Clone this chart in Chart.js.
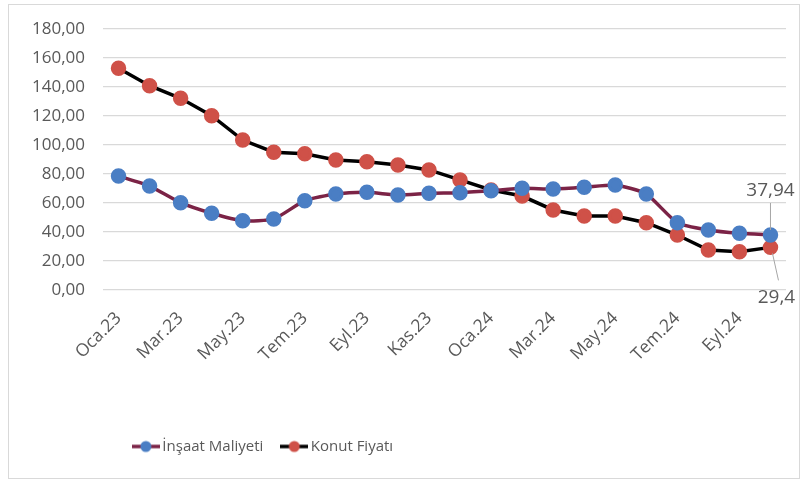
<!DOCTYPE html>
<html>
<head>
<meta charset="utf-8">
<script src="https://cdn.jsdelivr.net/npm/chart.js@4/dist/chart.umd.min.js"></script>
<style>
  html, body { margin: 0; padding: 0; background: #fff; }
  #wrap { width: 803px; height: 482px; position: relative; }
</style>
</head>
<body>
<div id="wrap"><canvas id="chart" width="803" height="482"></canvas></div>
<script>
// Months, Oca.23 .. Eki.24
const months = ['Oca', 'Şub', 'Mar', 'Nis', 'May', 'Haz', 'Tem', 'Ağu', 'Eyl', 'Eki', 'Kas', 'Ara'];
const labels = [];
for (let i = 0; i < 22; i++) labels.push(months[i % 12] + '.' + (23 + Math.floor(i / 12)));

// values
const insaatMaliyeti = [78.6, 71.7, 60.2, 52.9, 47.8, 49.0, 61.6, 66.2, 67.4, 65.5, 66.7, 67.1,
                        68.5, 70.1, 69.7, 70.8, 72.4, 66.2, 46.4, 41.4, 39.1, 37.94];
const konutFiyati = [152.9, 140.9, 132.2, 120.2, 103.4, 95.0, 94.0, 89.7, 88.5, 86.2, 82.8, 75.9,
                     69.0, 64.8, 55.2, 51.0, 51.0, 46.4, 37.9, 27.6, 26.4, 29.4];

const yTicks = [0, 20, 40, 60, 80, 100, 120, 140, 160, 180];

const FONT = '"Open Sans", "Noto Sans", sans-serif';
const TXT = '#595959';

// legend marker: line with a dot
function marker(lineColor, dotColor) {
    const c = document.createElement('canvas');
    c.width = 28; c.height = 14;
    const g = c.getContext('2d');
    g.strokeStyle = lineColor; g.lineWidth = 3.5;
    g.beginPath(); g.moveTo(0, 7); g.lineTo(28, 7); g.stroke();
    g.fillStyle = dotColor;
    g.beginPath(); g.arc(14, 7, 5.5, 0, Math.PI * 2); g.fill();
    return c;
}

const frame = {
    id: 'frame',
    beforeDraw(chart) {
        const g = chart.ctx;
        g.save();
        g.strokeStyle = '#d9d9d9'; g.lineWidth = 1;
        g.strokeRect(8.5, 4.5, 791, 474);
        g.restore();
    },
    // the legend sits left of centre in the original
    afterLayout(chart) {
        chart.legend.left -= 128;
        chart.legend.right -= 128;
    }
};

// last-point value labels with leader lines
const endLabels = {
    id: 'endLabels',
    afterDatasetsDraw(chart) {
        const g = chart.ctx;
        g.save();
        g.font = '19px ' + FONT;
        g.fillStyle = TXT;
        g.strokeStyle = '#a6a6a6';
        g.lineWidth = 1;
        const fmt = v => String(v).replace('.', ',');
        const m0 = chart.getDatasetMeta(0).data;
        const p0 = m0[m0.length - 1];
        g.beginPath(); g.moveTo(p0.x, p0.y - 32); g.lineTo(p0.x, p0.y - 5); g.stroke();
        g.textAlign = 'center'; g.textBaseline = 'middle';
        g.fillText(fmt(insaatMaliyeti[insaatMaliyeti.length - 1]), p0.x, p0.y - 44);
        const m1 = chart.getDatasetMeta(1).data;
        const p1 = m1[m1.length - 1];
        g.beginPath(); g.moveTo(p1.x + 2, p1.y + 6); g.lineTo(p1.x + 8, p1.y + 33); g.stroke();
        g.fillText(fmt(konutFiyati[konutFiyati.length - 1]), p1.x + 6, p1.y + 50);
        g.restore();
    }
};

new Chart(document.getElementById('chart'), {
    type: 'line',
    data: {
        labels: labels,
        datasets: [
            {
                label: 'İnşaat Maliyeti',
                data: insaatMaliyeti,
                borderColor: '#7b2346',
                backgroundColor: '#4a7ec4',
                pointBackgroundColor: '#4a7ec4',
                pointBorderColor: '#4a7ec4',
                borderWidth: 3.5,
                pointRadius: 6,
                tension: 0.2
            },
            {
                label: 'Konut Fiyatı',
                data: konutFiyati,
                borderColor: '#000000',
                backgroundColor: '#cf5148',
                pointBackgroundColor: '#cf5148',
                pointBorderColor: '#cf5148',
                borderWidth: 3.5,
                pointRadius: 6,
                tension: 0
            }
        ]
    },
    options: {
        responsive: false,
        animation: false,
        layout: { padding: { top: 29, right: 17, left: 0, bottom: 18 } },
        scales: {
            x: {
                offset: true,
                grid: { display: false },
                border: { display: false },
                ticks: {
                    autoSkip: false,
                    maxRotation: 45,
                    minRotation: 45,
                    padding: 10,
                    color: TXT,
                    font: { family: FONT, size: 17.5 },
                    callback: function (v, i) { return i % 2 === 0 ? labels[i] : ''; }
                },
                afterFit: s => { s.height = 127; }
            },
            y: {
                min: 0,
                max: 180,
                afterBuildTicks: s => { s.ticks = yTicks.map(v => ({ value: v })); },
                grid: { color: '#d9d9d9', lineWidth: 1.2, drawTicks: false },
                border: { display: false },
                ticks: {
                    color: TXT,
                    padding: 18,
                    font: { family: FONT, size: 17 },
                    callback: v => v.toFixed(2).replace('.', ',')
                },
                afterFit: s => { s.width = 103; }
            }
        },
        plugins: {
            tooltip: { enabled: false },
            legend: {
                position: 'bottom',
                labels: {
                    color: TXT,
                    font: { family: FONT, size: 15 },
                    usePointStyle: true,
                    pointStyleWidth: 18,
                    padding: 22,
                    generateLabels: chart => chart.data.datasets.map((d, i) => ({
                        text: d.label,
                        fontColor: TXT,
                        datasetIndex: i,
                        pointStyle: i === 0 ? marker('#7b2346', '#4a7ec4') : marker('#000', '#cf5148'),
                        lineWidth: 0,
                        strokeStyle: 'transparent',
                        fillStyle: 'transparent'
                    }))
                }
            }
        }
    },
    plugins: [frame, endLabels]
});
</script>
</body>
</html>
